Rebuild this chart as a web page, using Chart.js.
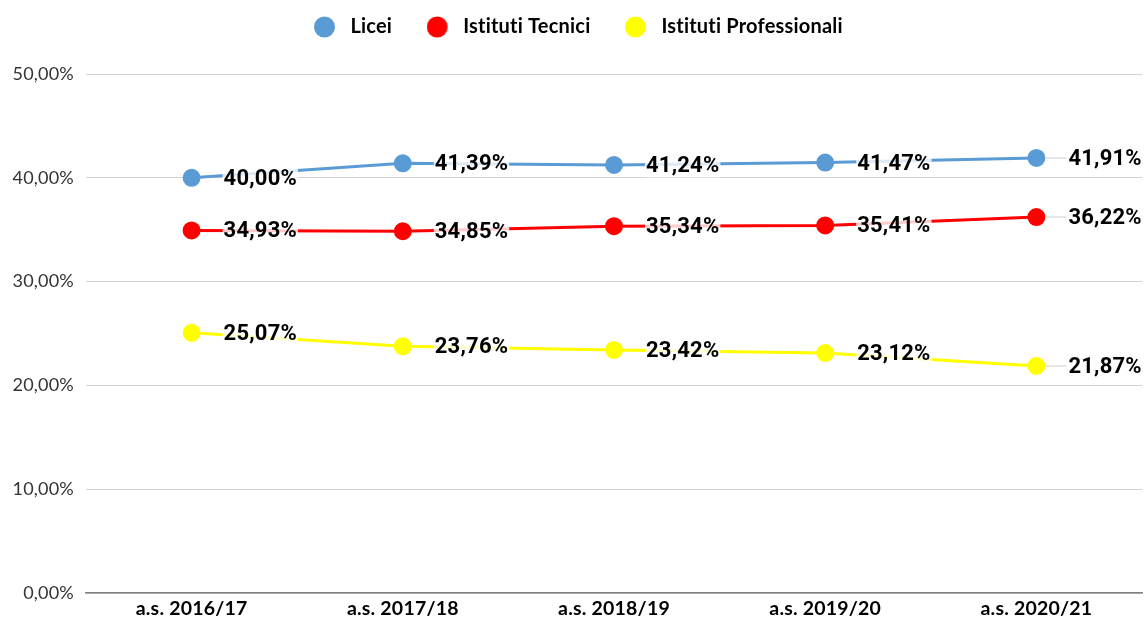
<!DOCTYPE html>
<html><head><meta charset="utf-8">
<script src="https://cdn.jsdelivr.net/npm/chart.js@4.4.1/dist/chart.umd.min.js"></script>
<style>html,body{margin:0;padding:0;background:#fff}#wrap{width:1145px;height:626px}</style>
</head><body><div id="wrap"><canvas id="c" width="1145" height="626"></canvas></div>
<script>
const categories = ['a.s. 2016/17','a.s. 2017/18','a.s. 2018/19','a.s. 2019/20','a.s. 2020/21'];
const seriesNames = ['Licei','Istituti Tecnici','Istituti Professionali'];
const licei = [40.00, 41.39, 41.24, 41.47, 41.91];
const tecnici = [34.93, 34.85, 35.34, 35.41, 36.22];
const professionali = [25.07, 23.76, 23.42, 23.12, 21.87];
const colors = ['#5b9bd5','#ff0000','#ffff00'];
const fmt = v => v.toFixed(2).replace('.', ',') + '%';

// legend marker: circle offset left inside a wider image so text sits further from marker
function legendMarker(color) {
  const c = document.createElement('canvas');
  c.width = 33; c.height = 22;
  const g = c.getContext('2d');
  g.fillStyle = color;
  g.beginPath(); g.arc(10.5, 11, 10.5, 0, Math.PI * 2); g.fill();
  return c;
}

const labelPlugin = {
  id: 'valueLabels',
  afterDatasetsDraw(chart) {
    const ctx = chart.ctx;
    ctx.save();
    ctx.font = 'bold 22px Roboto';
    ctx.textBaseline = 'middle';
    ctx.textAlign = 'left';
    chart.data.datasets.forEach((ds, di) => {
      const meta = chart.getDatasetMeta(di);
      meta.data.forEach((pt, i) => {
        const txt = fmt(ds.data[i]);
        const w = ctx.measureText(txt).width;
        const x = pt.x + 32, y = pt.y + 1.5;
        if (i === ds.data.length - 1) {
          ctx.strokeStyle = '#e6e6e6'; ctx.lineWidth = 2;
          ctx.beginPath(); ctx.moveTo(pt.x + 9, pt.y); ctx.lineTo(x - 2, pt.y); ctx.stroke();
        }
        ctx.fillStyle = 'rgba(255,255,255,0.8)';
        ctx.fillRect(x - 1, y - 11, w + 2, 22);
        ctx.fillStyle = '#000';
        ctx.fillText(txt, x, y);
      });
    });
    ctx.restore();
  }
};
const legendFit = {
  id: 'legendFit',
  beforeInit(chart) {
    const orig = chart.legend.fit;
    chart.legend.fit = function () { orig.call(this); this.height = 74; };
  },
  afterLayout(chart) { chart.legend.top = -24; chart.legend.left = 14; },
  beforeDraw(chart) { chart.ctx.letterSpacing = '0.2px'; }
};

new Chart(document.getElementById('c'), {
  type: 'line',
  data: {
    labels: categories,
    datasets: [licei, tecnici, professionali].map((d, i) => ({
      label: seriesNames[i], data: d,
      borderColor: colors[i], backgroundColor: colors[i],
      pointBackgroundColor: colors[i], pointBorderColor: colors[i],
      borderWidth: 3, pointRadius: 7.5, pointHoverRadius: 7.5, tension: 0
    }))
  },
  options: {
    responsive: false, animation: false,
    layout: { autoPadding: false, padding: { left: 0, right: 3, top: 0, bottom: 0 } },
    plugins: {
      tooltip: { enabled: false },
      legend: {
        position: 'top',
        labels: {
          usePointStyle: true, boxWidth: 20, boxHeight: 20,
          padding: 41, color: '#000', font: { family: 'Lato', size: 20, weight: 'bold' },
          generateLabels(chart) {
            const items = Chart.defaults.plugins.legend.labels.generateLabels(chart);
            return items.map((it, i) => Object.assign(it, { pointStyle: legendMarker(colors[i]) }));
          }
        }
      }
    },
    scales: {
      x: {
        offset: true,
        afterFit(s) { s.height = 33; s.paddingLeft = 0; s.paddingRight = 0; },
        grid: { display: false, drawTicks: false },
        border: { display: true, color: '#808080', width: 1.5 },
        ticks: { color: '#000', padding: 4, font: { family: 'Lato', size: 19.5, weight: 'bold' } }
      },
      y: {
        min: 0, max: 50,
        afterFit(s) { s.width = 86; s.paddingTop = 0; s.paddingBottom = 0; },
        grid: { color: '#d0d0d0', drawTicks: false, lineWidth: 1 },
        border: { display: false },
        ticks: { stepSize: 10, color: '#333', padding: 12, font: { family: 'Lato', size: 18 },
          callback: v => fmt(v) }
      }
    }
  },
  plugins: [legendFit, labelPlugin]
});
</script></body></html>
